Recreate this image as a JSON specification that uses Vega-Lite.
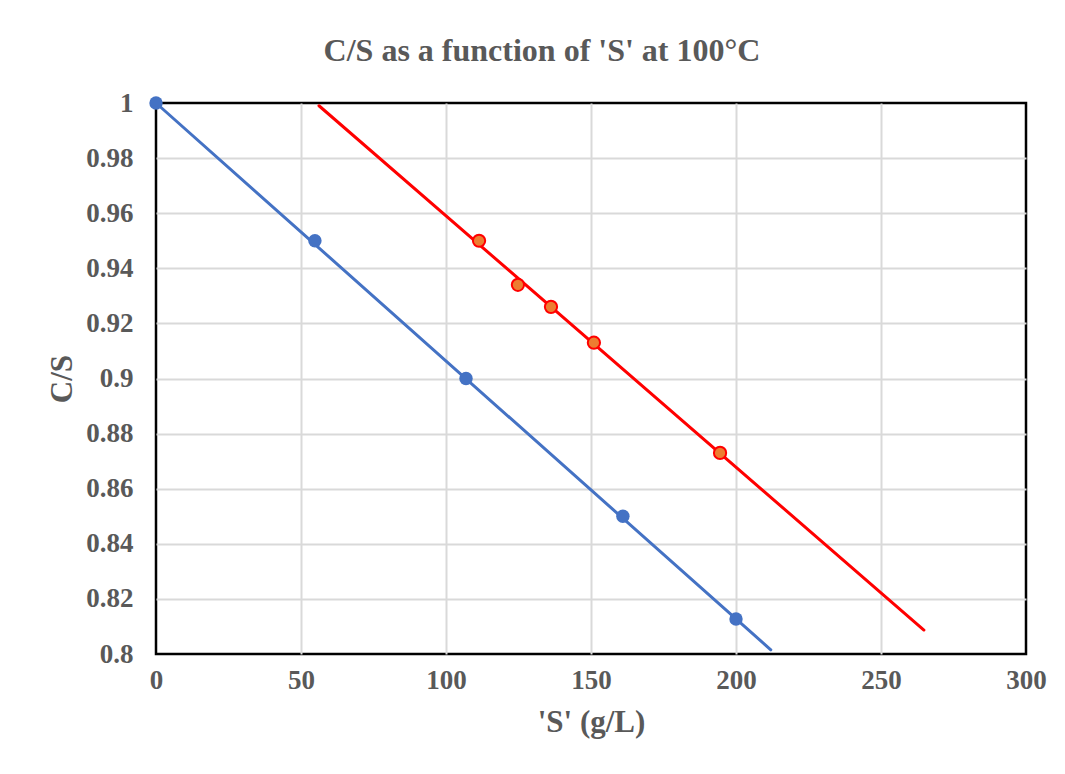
{
  "$schema": "https://vega.github.io/schema/vega-lite/v6.json",
  "width": 870,
  "height": 551,
  "autosize": {"type": "none"},
  "padding": {"left": 156, "top": 103, "right": 39, "bottom": 120},
  "background": "white",
  "config": {
    "view": {"stroke": "black", "strokeWidth": 2.5},
    "font": "Liberation Serif",
    "axis": {
      "labelFont": "Liberation Serif",
      "labelFontWeight": "bold",
      "labelFontSize": 27,
      "labelColor": "#595959",
      "titleFont": "Liberation Serif",
      "titleFontWeight": "bold",
      "titleFontSize": 31,
      "titleColor": "#595959",
      "gridColor": "#d9d9d9",
      "gridWidth": 2,
      "domain": false,
      "ticks": false
    }
  },
  "title": {
    "text": "C/S as a function of 'S' at 100°C",
    "font": "Liberation Serif",
    "fontSize": 32,
    "fontWeight": "bold",
    "color": "#595959",
    "anchor": "middle",
    "dx": -49,
    "offset": 21
  },
  "data": {
    "values": [
      {"series": "blue", "kind": "point", "S": 0, "CS": 1.0},
      {"series": "blue", "kind": "point", "S": 54.8, "CS": 0.95},
      {"series": "blue", "kind": "point", "S": 106.9, "CS": 0.9},
      {"series": "blue", "kind": "point", "S": 161, "CS": 0.85},
      {"series": "blue", "kind": "point", "S": 200, "CS": 0.8127},
      {"series": "red", "kind": "point", "S": 111.4, "CS": 0.95},
      {"series": "red", "kind": "point", "S": 124.8, "CS": 0.934},
      {"series": "red", "kind": "point", "S": 136.2, "CS": 0.926},
      {"series": "red", "kind": "point", "S": 151.0, "CS": 0.913},
      {"series": "red", "kind": "point", "S": 194.5, "CS": 0.873},
      {"series": "blue", "kind": "trend", "S": 0, "CS": 1.0},
      {"series": "blue", "kind": "trend", "S": 212, "CS": 0.8015},
      {"series": "red", "kind": "trend", "S": 56.2, "CS": 0.999},
      {"series": "red", "kind": "trend", "S": 264.8, "CS": 0.8087}
    ]
  },
  "encoding": {
    "x": {
      "field": "S",
      "type": "quantitative",
      "scale": {"domain": [0, 300], "nice": false, "zero": false},
      "axis": {
        "values": [0, 50, 100, 150, 200, 250, 300],
        "title": "'S' (g/L)",
        "labelPadding": 13,
        "titlePadding": 14,
        "labelFlush": false,
        "gridOpacity": {"condition": {"test": "datum.value === 0 || datum.value === 300", "value": 0}, "value": 1}
      }
    },
    "y": {
      "field": "CS",
      "type": "quantitative",
      "scale": {"domain": [0.8, 1.0], "nice": false, "zero": false},
      "axis": {
        "values": [0.8, 0.82, 0.84, 0.86, 0.88, 0.9, 0.92, 0.94, 0.96, 0.98, 1.0],
        "format": ".2~f",
        "title": "C/S",
        "labelPadding": 23,
        "titlePadding": 7,
        "labelFlush": false,
        "gridOpacity": {"condition": {"test": "datum.value <= 0.8001 || datum.value >= 0.9999", "value": 0}, "value": 1}
      }
    }
  },
  "layer": [
    {
      "transform": [{"filter": "datum.kind === 'trend' && datum.series === 'blue'"}],
      "mark": {"type": "line", "color": "#4472C4", "strokeWidth": 3, "strokeCap": "round", "clip": false}
    },
    {
      "transform": [{"filter": "datum.kind === 'trend' && datum.series === 'red'"}],
      "mark": {"type": "line", "color": "#FF0000", "strokeWidth": 3, "strokeCap": "round", "clip": false}
    },
    {
      "transform": [{"filter": "datum.kind === 'point' && datum.series === 'blue'"}],
      "mark": {"type": "point", "shape": "circle", "filled": true, "color": "#4472C4", "opacity": 1, "size": 180, "clip": false}
    },
    {
      "transform": [{"filter": "datum.kind === 'point' && datum.series === 'red'"}],
      "mark": {"type": "point", "shape": "circle", "filled": true, "fill": "#ED7D31", "stroke": "#FF0000", "strokeWidth": 2, "opacity": 1, "size": 150, "clip": false}
    }
  ]
}
